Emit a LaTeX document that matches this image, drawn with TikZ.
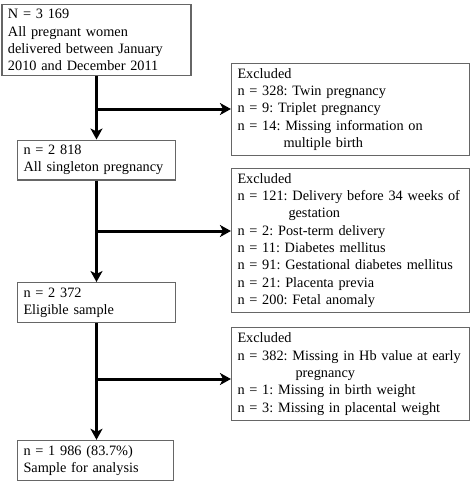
\documentclass[tikz,border=0pt]{standalone}
\usepackage{fontspec}
\setmainfont{Liberation Serif}
\usetikzlibrary{arrows.meta}
\frenchspacing

\begin{document}
\begin{tikzpicture}[x=1pt, y=-1pt]

% box and arrow styles
\tikzset{
  mainbox/.style={draw=black!60, line width=1.1pt, fill=white, text width=146pt,
    inner xsep=6pt, inner ysep=5pt, align=left,
    font=\fontsize{14.3}{17.3}\selectfont\frenchspacing},
  exclbox/.style={mainbox, text width=226pt},
  flow/.style={line width=3pt, -{Stealth[length=11pt, width=12pt, inset=3pt]}}
}

\useasboundingbox (0,0) rectangle (472,483);

% ===== main column =====
\node[mainbox, text width=177pt] (cohort) at (96.5,40)
  {N = 3 169\\All pregnant women\\delivered between January\\2010 and December 2011};
\node[mainbox] (single) at (96.5,160)
  {n = 2 818\\All singleton pregnancy};
\node[mainbox] (eligible) at (96.5,302.5)
  {n = 2 372\\Eligible sample};
\node[mainbox, text width=144pt] (analysis) at (95.5,460.5)
  {n = 1 986 (83.7\%)\\Sample for analysis};

% ===== exclusions =====
\node[exclbox] (excl1) at (350.5,109.5)
  {Excluded\\n = 328: Twin pregnancy\\n = 9: Triplet pregnancy\\
   n = 14: Missing information on\\\hspace*{46pt}multiple birth};
\node[exclbox] (excl2) at (350.5,240.5)
  {Excluded\\n = 121: Delivery before 34 weeks of\\\hspace*{51pt}gestation\\
   n = 2: Post-term delivery\\n = 11: Diabetes mellitus\\
   n = 91: Gestational diabetes mellitus\\n = 21: Placenta previa\\
   n = 200: Fetal anomaly};
\node[exclbox] (excl3) at (350.5,374)
  {Excluded\\n = 382: Missing in Hb value at early\\\hspace*{58pt}pregnancy\\
   n = 1: Missing in birth weight\\n = 3: Missing in placental weight};

% ===== arrows =====
\draw[flow] (cohort) -- (single);
\draw[flow] (single) -- (eligible);
\draw[flow] (eligible) -- (eligible |- analysis.north);
\foreach \y/\b in {109/excl1, 231/excl2, 379/excl3} {
  \coordinate (split) at (96.5,\y);
  \draw[flow] (split) -- (split -| \b.west);
}

\end{tikzpicture}
\end{document}
